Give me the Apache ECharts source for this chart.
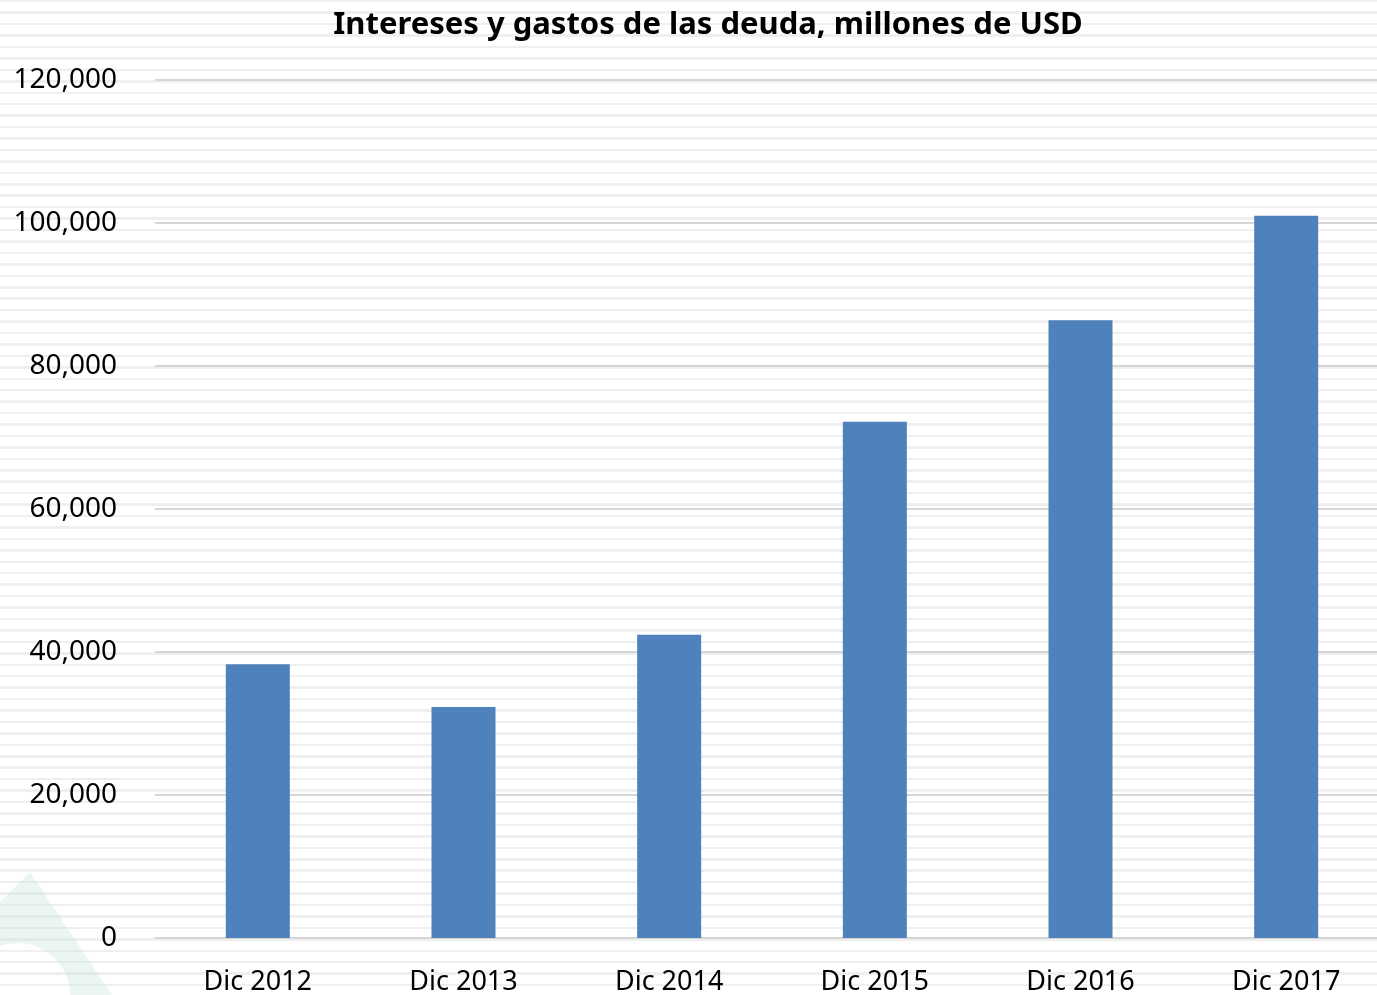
<!DOCTYPE html>
<html>
<head>
<meta charset="utf-8">
<script src="https://cdn.jsdelivr.net/npm/echarts/dist/echarts.min.js"></script>
<style>
  html, body { margin: 0; padding: 0; }
  body {
    background: repeating-linear-gradient(to bottom, #efefef 0px, #efefef 2.5px, #ffffff 2.5px, #ffffff 11.44px);
  }
  #chart { width: 1377px; height: 995px; }
</style>
</head>
<body>
<div id="chart"></div>
<script>
// data
const categories = ['Dic 2012', 'Dic 2013', 'Dic 2014', 'Dic 2015', 'Dic 2016', 'Dic 2017']
const interes = [38300, 32300, 42400, 72200, 86400, 101000]
const yMax = 120000
const yStep = 20000

// watermark outline in the bottom-left corner (arch shape)
const mark = [[30, 872], [112, 995], [70, 995]]
for (let i = 1; i < 24; i++) {
  const a = -Math.PI * i / 24
  mark.push([18 + 52 * Math.cos(a), 995 + 52 * Math.sin(a)])
}
mark.push([-34, 995], [0, 902])

const chart = echarts.init(document.getElementById('chart'))
const option = {
  backgroundColor: 'transparent',
  textStyle: { fontFamily: 'Noto Sans' },
  title: {
    text: 'Intereses y gastos de las deuda, millones de USD',
    left: 703,
    textAlign: 'center',
    top: 5,
    textStyle: { fontSize: 31, fontWeight: 'bold', color: '#000' }
  },
  graphic: [
    {
      type: 'polygon',
      silent: true,
      z: -1,
      shape: { points: mark },
      style: { fill: 'rgba(190,225,220,0.3)' }
    }
  ],
  grid: { left: 155, top: 80, width: 1234, height: 858, outerBoundsMode: 'none' },
  xAxis: {
    type: 'category',
    data: categories,
    axisLine: { lineStyle: { color: '#d6d6d6', width: 2 } },
    axisTick: { show: false },
    axisLabel: { color: '#000', fontSize: 27, margin: 31 }
  },
  yAxis: {
    type: 'value',
    min: 0,
    max: yMax,
    interval: yStep,
    axisLine: { show: false },
    axisTick: { show: false },
    splitLine: { lineStyle: { color: '#d6d6d6', width: 2 } },
    axisLabel: {
      color: '#000',
      fontSize: 28,
      margin: 38,
      padding: [5, 0, 0, 0],
      formatter: function (v) { return v.toLocaleString('en-US') }
    }
  },
  series: [
    {
      type: 'bar',
      data: interes,
      barWidth: 64,
      itemStyle: { color: '#4f81bd' }
    }
  ]
}
chart.setOption(option)
</script>
</body>
</html>
